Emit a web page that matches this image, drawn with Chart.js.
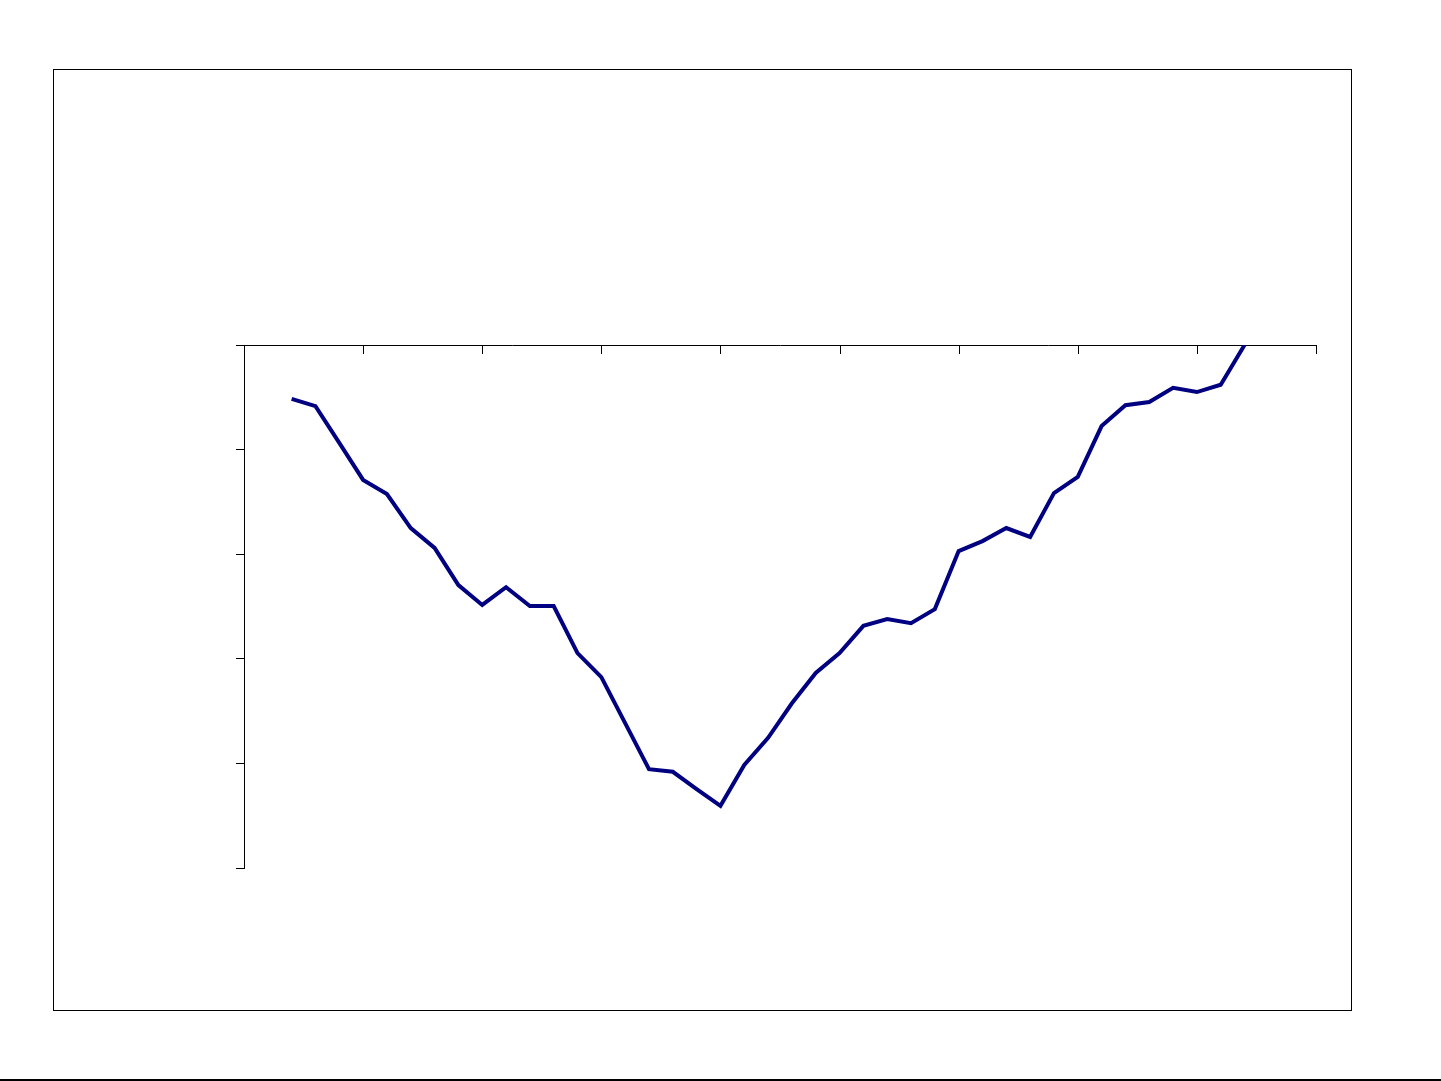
<!DOCTYPE html>
<html>
<head>
<meta charset="utf-8">
<title>Line chart</title>
<script src="https://cdn.jsdelivr.net/npm/chart.js@4.4.1/dist/chart.umd.min.js"></script>
<style>
    html, body { margin: 0; padding: 0; background: #fff; overflow: hidden; }
    #wrap { position: relative; width: 1441px; height: 1081px; }
    #frame { position: absolute; left: 53px; top: 69px; width: 1297px; height: 940px; border: 1px solid #000; pointer-events: none; }
    #edge { position: absolute; left: 0; top: 1079px; width: 1441px; height: 2px; background: #000; }
</style>
</head>
<body>
<div id="wrap">
    <canvas id="lineChart" width="1441" height="1081"></canvas>
    <div id="frame"></div>
    <div id="edge"></div>
</div>
<script>
// category positions along the top axis
const positions = [2, 3, 4, 5, 6, 7, 8, 9, 10, 11, 12, 13, 14, 15, 16, 17, 18, 19, 20, 21,
                   22, 23, 24, 25, 26, 27, 28, 29, 30, 31, 32, 33, 34, 35, 36, 37, 38, 39, 40, 41, 42];

// series values (axis 0..100, no labels shown)
const values = [89.7, 88.3, 81.3, 74.2, 71.5, 65.0, 61.2, 54.1, 50.3, 53.7,
                50.1, 50.1, 41.1, 36.5, 27.7, 18.9, 18.4, 15.1, 11.9, 19.7,
                24.9, 31.5, 37.3, 41.1, 46.3, 47.6, 46.8, 49.5, 60.6, 62.5,
                65.0, 63.3, 71.7, 74.8, 84.5, 88.5, 89.1, 91.8, 91.0, 92.4, 100];

// axis ranges / tick steps
const xMin = 0, xMax = 45, xStep = 5;
const yMin = 0, yMax = 100, yStep = 20;

// top axis ticks point down into the plot, so draw them from the scale
const innerTicks = {
    id: 'innerTicks',
    afterDraw(chart) {
        const scale = chart.scales.x;
        const ctx = chart.ctx;
        ctx.save();
        ctx.strokeStyle = '#000';
        ctx.lineWidth = 1;
        ctx.beginPath();
        scale.ticks.forEach(t => {
            const px = Math.round(scale.getPixelForValue(t.value)) + 0.5;
            ctx.moveTo(px, chart.chartArea.top);
            ctx.lineTo(px, chart.chartArea.top + 9);
        });
        ctx.stroke();
        ctx.restore();
    }
};

const ctx = document.getElementById('lineChart').getContext('2d');
new Chart(ctx, {
    type: 'line',
    data: {
        datasets: [{
            data: positions.map((p, i) => ({ x: p, y: values[i] })),
            borderColor: '#000080',
            borderWidth: 4,
            pointRadius: 0,
            tension: 0,
            fill: false
        }]
    },
    options: {
        responsive: false,
        animation: false,
        devicePixelRatio: 1,
        layout: { padding: { left: 236, top: 345, right: 125, bottom: 213 } },
        plugins: { legend: { display: false }, tooltip: { enabled: false } },
        scales: {
            x: {
                type: 'linear',
                position: 'top',
                min: xMin,
                max: xMax,
                ticks: { stepSize: xStep, display: false },
                grid: { drawOnChartArea: false, drawTicks: false },
                border: { display: true, color: '#000', width: 1 }
            },
            y: {
                min: yMin,
                max: yMax,
                ticks: { stepSize: yStep, display: false },
                grid: { drawOnChartArea: false, drawTicks: true, tickLength: 8, color: '#000' },
                border: { display: true, color: '#000', width: 1 }
            }
        }
    },
    plugins: [innerTicks]
});
</script>
</body>
</html>
